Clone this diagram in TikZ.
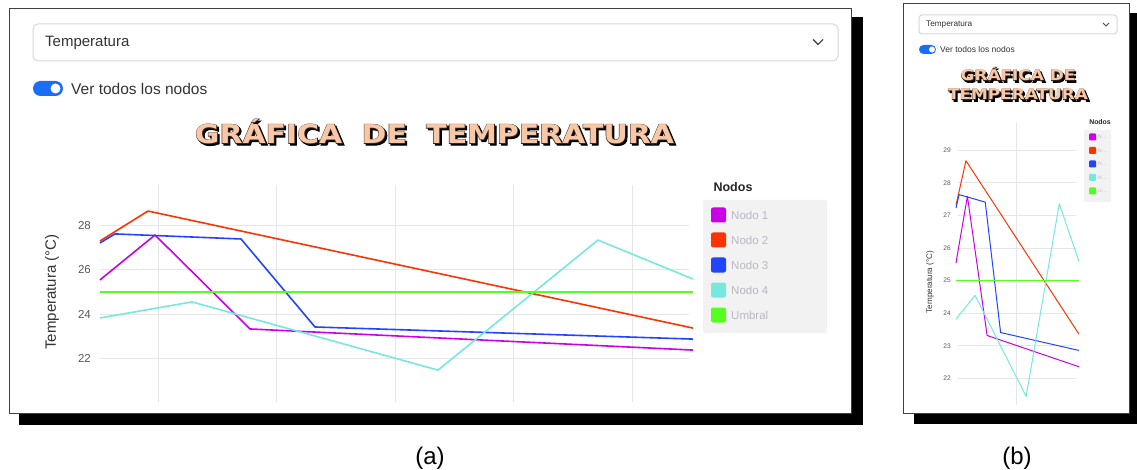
\documentclass[tikz,border=0pt]{standalone}
\usepackage{fontspec}
\setmainfont{Liberation Sans}
\newfontfamily\titfont{DejaVu Sans}
\newfontfamily\titgorda{DejaVu Sans}[BoldFeatures={FakeBold=4}]
\usepackage{tikz}
\usetikzlibrary{positioning}
\definecolor{nodouno}{HTML}{CC00E6}
\definecolor{nododos}{HTML}{FF3300}
\definecolor{nodotres}{HTML}{2244FF}
\definecolor{nodocuatro}{HTML}{77E8DD}
\definecolor{umbral}{HTML}{55FF22}
\definecolor{azul}{HTML}{1A6EF5}
\definecolor{durazno}{HTML}{F7C8A8}
\definecolor{cafe}{HTML}{3A2418}
\definecolor{rejillagris}{HTML}{E6E6E6}
\definecolor{bordegris}{HTML}{D5D8DC}
\definecolor{leyendagris}{HTML}{F2F2F2}
\definecolor{etiqgris}{HTML}{B8B8C4}
\tikzstyle{marco} = [draw=black!75, line width=0.8pt, fill=white]
\tikzstyle{caja} = [draw=bordegris, line width=1pt, rounded corners=5pt]
\tikzstyle{flecha} = [draw=black!70, line width=1.4pt]
\tikzstyle{rejilla} = [draw=rejillagris, line width=1pt]
\tikzstyle{texto} = [inner sep=0pt, text=black!80]
\tikzstyle{tick} = [inner sep=0pt, text=black!65]
\tikzstyle{tit} = [inner sep=0pt, align=center, xscale=1.15]
% una linea por nodo, en coordenadas (muestra, T-22)
\newcommand\series{%
  \draw[serie, nodouno] (0,3.55) -- (55,5.59) -- (150,1.32) -- (593,0.36);
  \draw[serie, nododos] (0,5.32) -- (48,6.68) -- (593,1.36);
  \draw[serie, nodotres] (0,5.23) -- (15,5.64) -- (141,5.41) -- (215,1.41) -- (593,0.86);
  \draw[serie, nodocuatro] (0,1.82) -- (92,2.55) -- (338,-0.55) -- (498,5.36) -- (593,3.59);
  \draw[serie, umbral] (0,3) -- (593,3);
}
% titulo con contorno y sombra
\newcommand\titulo[4]{% nombre, posicion, tamano, texto
  \node[tit, font=\titgorda\bfseries#3, text=black] (#1s) at ([shift={(1.8,1.8)}]#2) {#4};
  \node[tit, font=\titgorda\bfseries#3, text=cafe] (#1c) at (#2) {#4};
  \node[tit, font=\titfont\bfseries#3, text=durazno] (#1) at (#2) {#4};
}
\begin{document}
\begin{tikzpicture}[x=1pt,y=-1pt]
\useasboundingbox (0,0) rectangle (1137,470);

% ---------- (a) ----------
\fill[black] (19,17) rectangle (863,425);
\draw[marco] (9,8) rectangle (851,413);
\draw[caja] (33,24) rectangle (838,61);
\node[texto, anchor=west, font=\fontsize{15}{18}\selectfont] (selA) at (45,43) {Temperatura};
\draw[flecha] (813,39.5) -- (818,44.5) -- (823,39.5);
\fill[azul, rounded corners=7.5pt] (33,81) rectangle (63,96);
\fill[white] (55.5,88.5) circle (5);
\node[texto, anchor=west, font=\fontsize{15.5}{18}\selectfont] (verA) at (71,89) {Ver todos los nodos};
\titulo{titA}{434.5,131.5}{\fontsize{26}{28}\selectfont}{GRÁFICA\hspace{0.65em}DE\hspace{0.65em}TEMPERATURA}

\foreach \gx in {158,276.5,395,513.5,632}
  \draw[rejilla] (\gx,185) -- (\gx,402);
\foreach \t in {22,24,26,28}{
  \draw[rejilla] (100,{358-(\t-22)*22}) -- (689,{358-(\t-22)*22});
  \node[tick, anchor=east, font=\fontsize{11.5}{13}\selectfont] (tA\t) at (91,{358-(\t-22)*22}) {\t};
}
\node[texto, rotate=90, font=\fontsize{15}{17}\selectfont] (ejeA) at (52,292) {Temperatura (°C)};
\begin{scope}[shift={(100,358)}, x=1pt, y=22pt, serie/.style={line width=1.6pt, line join=round}]
  \series
\end{scope}

\fill[leyendagris, rounded corners=2pt] (703,200) rectangle (827,333);
\node[texto, text=black!85, font=\bfseries\fontsize{12.5}{14}\selectfont] (nodosA) at (733,187) {Nodos};
\foreach \c/\l [count=\i] in {nodouno/Nodo 1, nododos/Nodo 2, nodotres/Nodo 3, nodocuatro/Nodo 4, umbral/Umbral}{
  \fill[\c, rounded corners=2pt] (711,{207.5+(\i-1)*25}) rectangle +(15,15);
  \node[texto, anchor=west, text=etiqgris, font=\fontsize{11.5}{13}\selectfont] (legA\i) at (731,{215+(\i-1)*25}) {\l};
}
\node[inner sep=0pt, anchor=base, font=\fontsize{24}{26}\selectfont] (capA) at (430,464) {(a)};

% ---------- (b) ----------
\fill[black] (914,13) rectangle (1137,424);
\draw[marco] (903,3) rectangle (1129,413);
\draw[caja, rounded corners=3pt] (919,15) rectangle (1117,34);
\node[texto, anchor=west, font=\fontsize{8.2}{10}\selectfont] (selB) at (926,24.5) {Temperatura};
\draw[flecha, line width=0.9pt] (1103,23) -- (1106,26) -- (1109,23);
\fill[azul, rounded corners=4.5pt] (919,45) rectangle (936,54);
\fill[white] (932,49.5) circle (3);
\node[texto, anchor=west, font=\fontsize{8.5}{10}\selectfont] (verB) at (940,49.5) {Ver todos los nodos};
\titulo{titB}{1018,83.5}{\fontsize{14.7}{19}\selectfont}{GRÁFICA DE\\TEMPERATURA}

\draw[rejilla] (1016.7,122) -- (1016.7,405);
\foreach \t in {22,...,29}{
  \draw[rejilla] (958,{378.5-(\t-22)*32.6}) -- (1076,{378.5-(\t-22)*32.6});
  \node[tick, anchor=east, font=\fontsize{6.6}{8}\selectfont] (tB\t) at (951,{378.5-(\t-22)*32.6}) {\t};
}
\node[texto, rotate=90, font=\fontsize{8.1}{9}\selectfont] (ejeB) at (930,282) {Temperatura (°C)};
\begin{scope}[shift={(956,378.5)}, x=0.2074pt, y=32.6pt, serie/.style={line width=1pt, line join=round}]
  \series
\end{scope}

\fill[leyendagris, rounded corners=1pt] (1084,130) rectangle (1111,202);
\node[texto, text=black!85, font=\bfseries\fontsize{6.9}{8}\selectfont] (nodosB) at (1100,122) {Nodos};
\foreach \c/\l [count=\i] in {nodouno/N…, nododos/N…, nodotres/N…, nodocuatro/N…, umbral/U…}{
  \fill[\c, rounded corners=1pt] (1089,{133.5+(\i-1)*13.5}) rectangle +(7,7);
  \node[texto, anchor=west, text=etiqgris, font=\fontsize{5}{6}\selectfont] (legB\i) at (1098,{137+(\i-1)*13.5}) {\l};
}
\node[inner sep=0pt, anchor=base, font=\fontsize{24}{26}\selectfont] (capB) at (1017,464) {(b)};
\end{tikzpicture}
\end{document}
